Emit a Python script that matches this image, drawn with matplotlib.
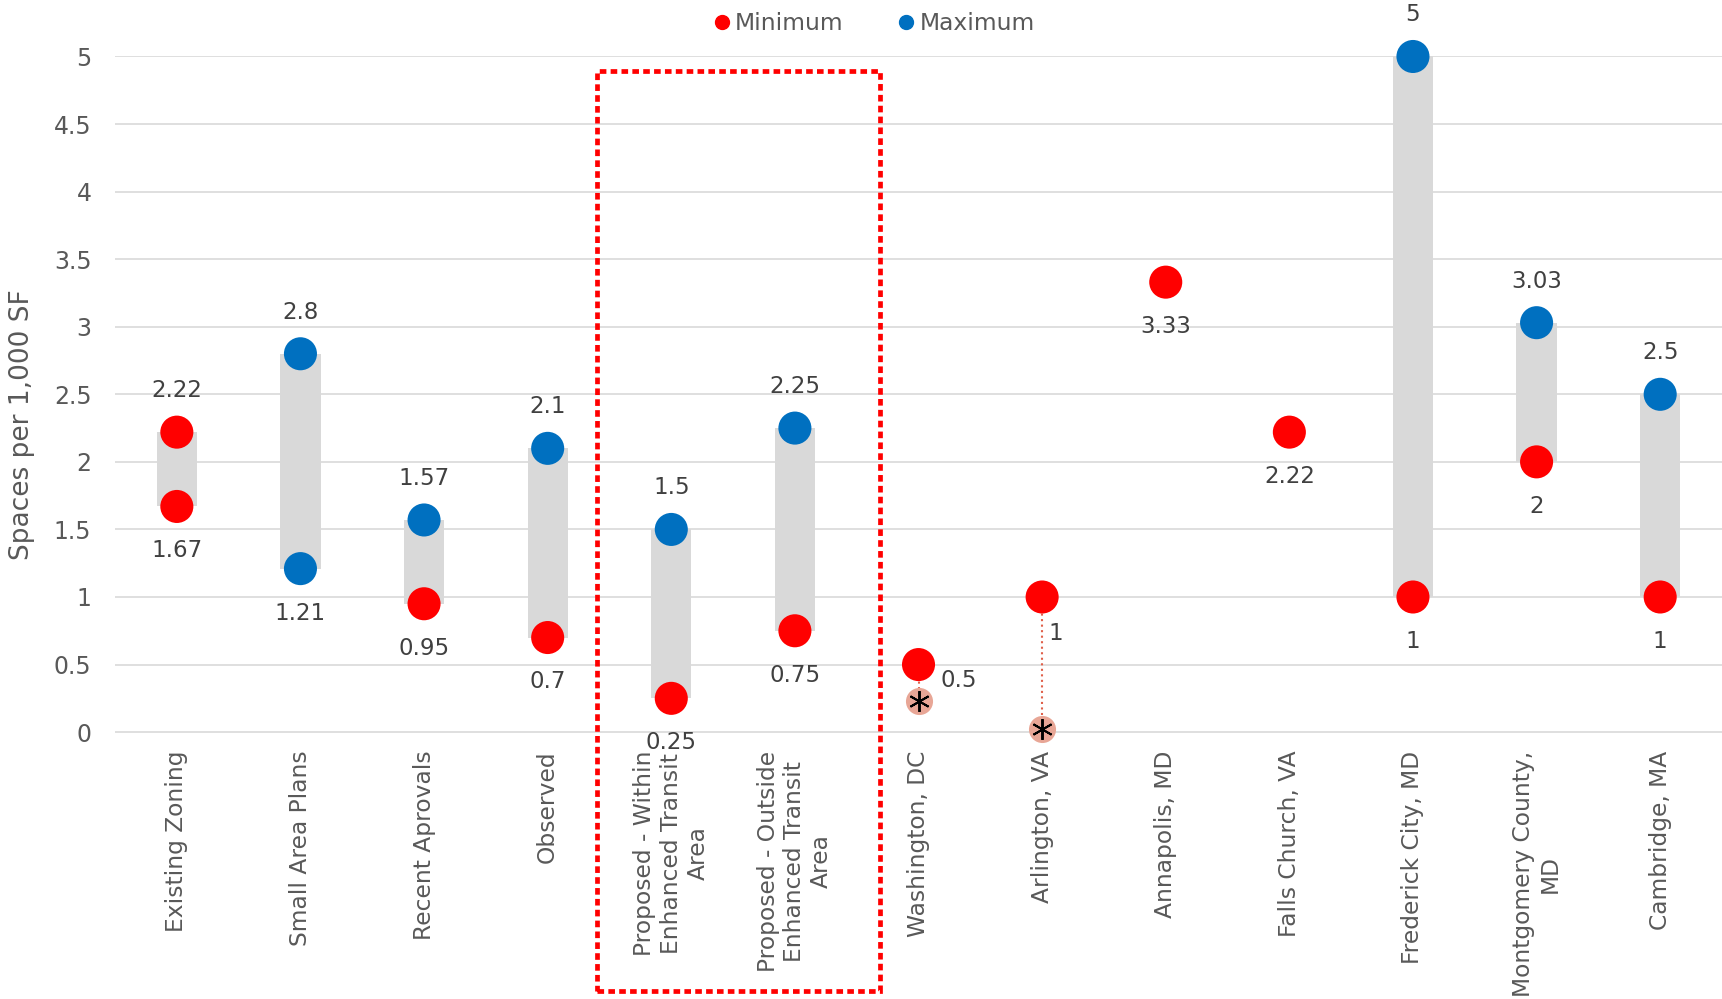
import matplotlib
matplotlib.use('Agg')
import matplotlib.pyplot as plt
from matplotlib.lines import Line2D
from matplotlib.patches import Rectangle
import numpy as np

# ---------------- data ----------------
categories = ["Existing Zoning", "Small Area Plans", "Recent Aprovals", "Observed",
              "Proposed - Within\nEnhanced Transit\nArea",
              "Proposed - Outside\nEnhanced Transit\nArea",
              "Washington, DC", "Arlington, VA", "Annapolis, MD", "Falls Church, VA",
              "Frederick City, MD", "Montgomery County,\nMD", "Cambridge, MA"]
minimum = [1.67, 1.21, 0.95, 0.7, 0.25, 0.75, 0.5, 1, 3.33, 2.22, 1, 2, 1]
maximum = [2.22, 2.8, 1.57, 2.1, 1.5, 2.25, None, None, None, None, 5, 3.03, 2.5]
asterisk_idx = [6, 7]
asterisk_vals = [0.23, 0.02]
y_ticks = [0, 0.5, 1, 1.5, 2, 2.5, 3, 3.5, 4, 4.5, 5]
legend_labels = ["Minimum", "Maximum"]

# ---------------- styles ----------------
RED = "#FF0000"
BLUE = "#0070C0"
min_colors = [RED, BLUE, RED, RED, RED, RED, RED, RED, RED, RED, RED, RED, RED]
max_colors = [RED, BLUE, BLUE, BLUE, BLUE, BLUE, BLUE, BLUE, BLUE, BLUE, BLUE, BLUE, BLUE]
special_min_offsets = {6: (29, -11.5), 7: (9.6, -26)}

fig = plt.figure(figsize=(17.22, 9.99), dpi=100)
ax = fig.add_axes([0.0668, 0.2666, 0.9332, 0.6774])

x = np.arange(len(categories))

# range bars
for i, (lo, hi) in enumerate(zip(minimum, maximum)):
    if hi is not None:
        ax.bar(i, hi - lo, bottom=lo, width=0.325, color="#D9D9D9", zorder=1, linewidth=0)

# asterisk connectors + markers
for i, v in zip(asterisk_idx, asterisk_vals):
    ax.plot([i, i], [minimum[i], v], color="#E0604A", ls=":", lw=1.5, zorder=2)
    ax.scatter([i], [v], s=19.5 ** 2, color="#E8A696", linewidths=0, zorder=3, clip_on=False)
    ax.plot([i], [v], marker=(6, 2, 0), markersize=15, color="black", mew=1.4,
            ls="", zorder=4, clip_on=False)

# points
ax.scatter(x, minimum, s=23.8 ** 2, c=min_colors, linewidths=0, zorder=5, clip_on=False)
mx = [i for i, v in enumerate(maximum) if v is not None]
ax.scatter(mx, [maximum[i] for i in mx], s=23.8 ** 2, c=[max_colors[i] for i in mx],
           linewidths=0, zorder=5, clip_on=False)

# data labels
lab_kw = dict(textcoords="offset points", ha="center", va="center",
              fontsize=16.5, color="#404040", zorder=6, annotation_clip=False)
for i, v in enumerate(minimum):
    off = special_min_offsets.get(i, (0, -32))
    ax.annotate(f"{v:g}", (i, v), xytext=off, **lab_kw)
for i in mx:
    ax.annotate(f"{maximum[i]:g}", (i, maximum[i]), xytext=(0, 30), **lab_kw)

# dotted highlight box
rect = Rectangle((3.397, -1.916), 5.685 - 3.397, 4.89 + 1.916, fill=False,
                 edgecolor=RED, lw=3.4, linestyle=(0, (1.4, 0.9)),
                 transform=ax.transData, clip_on=False, zorder=7)
ax.add_patch(rect)

# axes styling
ax.set_xlim(-0.5, len(categories) - 0.5)
ax.set_ylim(-0.004, 5.004)
ax.set_yticks(y_ticks)
ax.set_yticklabels([f"{t:g}" for t in y_ticks])
ax.set_xticks(x)
ax.set_xticklabels(categories, rotation=90, ha="center", va="top")
for lbl in ax.get_xticklabels():
    lbl.set_multialignment("center")
ax.tick_params(axis="x", length=0, pad=13, labelsize=16.8, labelcolor="#595959")
ax.tick_params(axis="y", length=0, pad=17, labelsize=17, labelcolor="#595959")
for s in ax.spines.values():
    s.set_visible(False)
ax.yaxis.grid(True, color="#D9D9D9", lw=1.2)
ax.set_axisbelow(True)

fig.text(0.0128, 0.5746, "Spaces per 1,000 SF", rotation=90, ha="center", va="center",
         fontsize=19, color="#595959")

handles = [Line2D([], [], marker="o", ls="", color=RED, markersize=10),
           Line2D([], [], marker="o", ls="", color=BLUE, markersize=10)]
fig.legend(handles=handles, labels=legend_labels, loc="center", bbox_to_anchor=(0.508, 0.976),
           ncol=2, frameon=False, fontsize=16.8, handlelength=0.6, handletextpad=0.25,
           columnspacing=2.4, labelcolor="#595959")

fig.savefig("out.png", dpi=100)
